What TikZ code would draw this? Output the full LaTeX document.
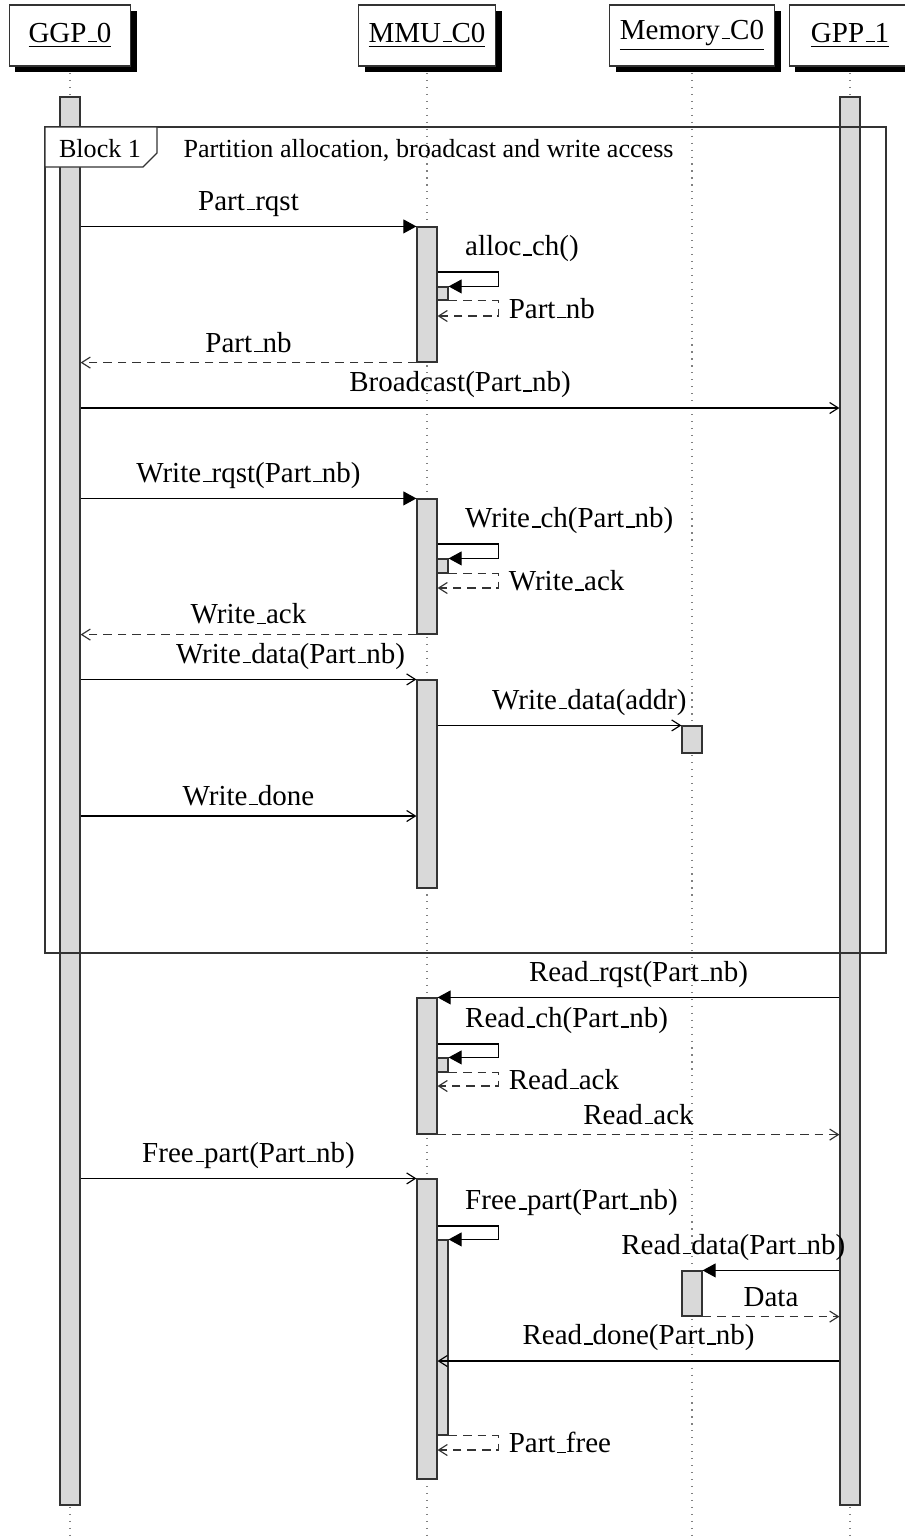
\documentclass[tikz,border=0pt]{standalone}
\usepackage{fontspec}
\setmainfont{Liberation Serif}
\usetikzlibrary{arrows.meta,fit,shadows}
\newcommand{\us}{\leavevmode\kern.06em\vbox{\hrule width.3em}}

\begin{document}
\begin{tikzpicture}[
    x=0.3448pt, y=-0.3448pt,
    inst/.style={draw=black!80, fill=white, minimum width=42pt, minimum height=21pt, inner xsep=3.6pt,
      drop shadow={shadow xshift=2.2pt, shadow yshift=-2.2pt, fill=black, opacity=1}},
    life/.style={dotted, gray},
    bar/.style={draw=black!80, fill=gray!30, inner sep=0pt},
    call/.style={-{Triangle[length=4.5pt, width=4.8pt]}},
    msg/.style={-{Straight Barb[length=3pt, width=3.8pt]}},
    ret/.style={msg, black!80, dash pattern=on 3pt off 2pt},
    selflbl/.style={anchor=south west, xshift=6pt},
    blocklbl/.style={font=\small}
]
\useasboundingbox (0,0) rectangle (905,1539);
\coordinate (top) at (0,73);
\coordinate (bottom) at (0,1535);

% instances
\node[inst] (ggp) at (70,35.5) {\underline{GGP\us 0}};
\node[inst] (mmu) at (427,35.5) {\underline{MMU\us C0}};
\node[inst] (mem) at (692,35.5) {\underline{Memory\us C0}};
\node[inst] (gpp) at (850,35.5) {\underline{GPP\us 1}};
\foreach \i in {ggp,mmu,mem,gpp}
  \draw[life] (\i |- top) -- (\i |- bottom);

% activations
\node[bar, fit={(60,97) (80,1505)}] (ggpbar) {};
\node[bar, fit={(840,97) (860,1505)}] (gppbar) {};
\node[bar, fit={(417,227) (437,362)}] (mmubar1) {};
\node[bar, fit={(437,287) (448,300)}] (mmusub1) {};
\node[bar, fit={(417,499) (437,634)}] (mmubar2) {};
\node[bar, fit={(437,559) (448,573)}] (mmusub2) {};
\node[bar, fit={(417,680) (437,888)}] (mmubar3) {};
\node[bar, fit={(682,726) (702,753)}] (membar1) {};
\node[bar, fit={(417,998) (437,1134)}] (mmubar4) {};
\node[bar, fit={(437,1058) (448,1072)}] (mmusub4) {};
\node[bar, fit={(417,1179) (437,1479)}] (mmubar5) {};
\node[bar, fit={(437,1240) (448,1435)}] (mmusub5) {};
\node[bar, fit={(682,1271) (702,1316)}] (membar2) {};

% block 1
\node[draw=black!80, inner sep=0pt, fit={(45,127) (886,953)}] (block) {};
\draw[draw=black!80, fill=white] (45,127) -- (157,127) -- (157,153) -- (143,167) -- (45,167) -- cycle;
\node[blocklbl, anchor=base] (blockname) at (100,157) {Block 1};
\node[blocklbl, anchor=base west, inner sep=0pt] (blocktitle) at (183,157) {Partition allocation, broadcast and write access};

% allocation
\draw[call] (ggpbar.east |- mmubar1.north) -- node[above] {Part\us rqst} (mmubar1.north west);
\draw[call] (mmubar1.east |- 0,272) node[selflbl] {alloc\us ch()} -- ++(61,0) |- (mmusub1.north east);
\draw[ret] (mmusub1.south east) -- ++(50,0) |- node[pos=0.25, right, black] {Part\us nb} (mmubar1.east |- 0,316);
\draw[ret] (mmubar1.south west) -- node[above, black] {Part\us nb} (ggpbar.east |- mmubar1.south);
\draw[msg] (ggpbar.east |- 0,408) -- node[above] {Broadcast(Part\us nb)} (gppbar.west |- 0,408);

% write access
\draw[call] (ggpbar.east |- mmubar2.north) -- node[above] {Write\us rqst(Part\us nb)} (mmubar2.north west);
\draw[call] (mmubar2.east |- 0,544) node[selflbl] {Write\us ch(Part\us nb)} -- ++(61,0) |- (mmusub2.north east);
\draw[ret] (mmusub2.south east) -- ++(50,0) |- node[pos=0.25, right, black] {Write\us ack} (mmubar2.east |- 0,588);
\draw[ret] (mmubar2.south west) -- node[above, black] {Write\us ack} (ggpbar.east |- mmubar2.south);
\draw[msg] (ggpbar.east |- mmubar3.north) -- node[above, xshift=14.5pt] {Write\us data(Part\us nb)} (mmubar3.north west);
\draw[msg] (mmubar3.east |- membar1.north) -- node[above, xshift=10.3pt] {Write\us data(addr)} (membar1.north west);
\draw[msg] (ggpbar.east |- 0,816) -- node[above] {Write\us done} (mmubar3.west |- 0,816);

% read access
\draw[call] (gppbar.west |- mmubar4.north) -- node[above] {Read\us rqst(Part\us nb)} (mmubar4.north east);
\draw[call] (mmubar4.east |- 0,1044) node[selflbl] {Read\us ch(Part\us nb)} -- ++(61,0) |- (mmusub4.north east);
\draw[ret] (mmusub4.south east) -- ++(50,0) |- node[pos=0.25, right, black] {Read\us ack} (mmubar4.east |- 0,1086);
\draw[ret] (mmubar4.south east) -- node[above, black] {Read\us ack} (gppbar.west |- mmubar4.south);

% free
\draw[msg] (ggpbar.east |- mmubar5.north) -- node[above] {Free\us part(Part\us nb)} (mmubar5.north west);
\draw[call] (mmubar5.east |- 0,1226) node[selflbl] {Free\us part(Part\us nb)} -- ++(61,0) |- (mmusub5.north east);
\draw[call] (gppbar.west |- membar2.north) -- node[above, xshift=-13pt] {Read\us data(Part\us nb)} (membar2.north east);
\draw[ret] (membar2.south east) -- node[above, black] {Data} (gppbar.west |- membar2.south);
\draw[msg] (gppbar.west |- 0,1361) -- node[above] {Read\us done(Part\us nb)} (mmubar5.east |- 0,1361);
\draw[ret] (mmusub5.south east) -- ++(50,0) |- node[pos=0.25, right, black] {Part\us free} (mmubar5.east |- 0,1450);
\end{tikzpicture}
\end{document}
